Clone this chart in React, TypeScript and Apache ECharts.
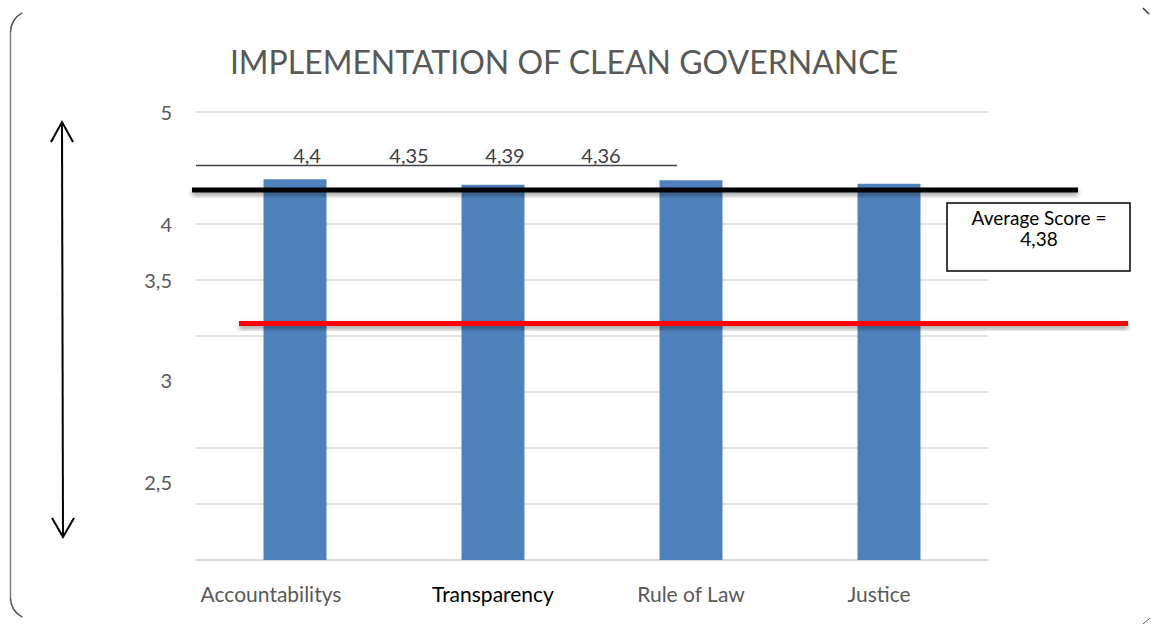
import React, { useEffect, useRef } from 'react';
import * as echarts from 'echarts';

const chartTitle = 'IMPLEMENTATION OF CLEAN GOVERNANCE';
const categories = ['Accountabilitys', 'Transparency', 'Rule of Law', 'Justice'];
const scores = [4.4, 4.35, 4.39, 4.36];
const averageScore = 4.38;
const yAxisLabelValues = [5, 4, 3.5];
const looseYAxisLabels = ['3', '2,5'];

const FONT = 'Lato, "Open Sans", sans-serif';
const fmt = (v: number) => String(v).replace('.', ',');

export default function App() {
  const ref = useRef<HTMLDivElement>(null);

  useEffect(() => {
    if (!ref.current) return;
    const chart = echarts.init(ref.current, null, { renderer: 'svg' });

    const labelXs = [307, 409, 505, 601];
    const looseLabelYs = [380, 482];
    const catStyles: any[] = [
      { color: '#595959', padding: [0, 48, 0, 0] },
      { color: '#000000' },
      { color: '#595959' },
      { color: '#595959', padding: [0, 20, 0, 0] },
    ];

    const gridColors = ['#d9d9d9', '#d9d9d9', '#d9d9d9', '#d9d9d9', '#d9d9d9', '#d9d9d9', '#d9d9d9', 'rgba(0,0,0,0)', '#d9d9d9'];

    const barShadow = { shadowBlur: 5, shadowOffsetY: 3, shadowOffsetX: 0, shadowColor: 'rgba(0,0,0,0.4)' };

    chart.setOption({
      animation: false,
      backgroundColor: '#ffffff',
      textStyle: { fontFamily: FONT },
      grid: { left: 196, right: 163, top: 112, bottom: 66, containLabel: false },
      xAxis: {
        type: 'category',
        data: categories.map((c, i) => ({ value: c, textStyle: catStyles[i] })),
        axisLine: { show: true, lineStyle: { color: '#d9d9d9', width: 1.5 } },
        axisTick: { show: false },
        axisLabel: { fontSize: 21, fontFamily: FONT, color: '#595959', margin: 23, interval: 0 },
      },
      yAxis: {
        type: 'value',
        min: 1,
        max: 5,
        interval: 0.5,
        axisLine: { show: false },
        axisTick: { show: false },
        splitLine: { show: true, lineStyle: { color: gridColors, width: 1.5 } },
        axisLabel: {
          fontSize: 20,
          fontFamily: FONT,
          color: '#595959',
          margin: 24,
          formatter: (v: number) => (yAxisLabelValues.includes(v) ? fmt(v) : ''),
        },
      },
      series: [
        {
          type: 'bar',
          data: scores,
          barWidth: 63,
          itemStyle: { color: '#4F81BD' },
          z: 2,
        },
      ],
      graphic: [
        {
          type: 'text', x: 564, y: 61, z: 10,
          style: { text: chartTitle, fill: '#595959', font: `32px ${FONT}`, textAlign: 'center', textVerticalAlign: 'middle' },
        },
        { type: 'rect', z: 5, shape: { x: 195, y: 386, width: 68, height: 12 }, style: { fill: '#ffffff' } },
        ...looseYAxisLabels.map((t, i) => ({
          type: 'text', x: 172, y: looseLabelYs[i], z: 10,
          style: { text: t, fill: '#595959', font: `20px ${FONT}`, textAlign: 'right', textVerticalAlign: 'middle' },
        })),
        ...scores.map((v, i) => ({
          type: 'text', x: labelXs[i], y: 155, z: 10,
          style: { text: fmt(v), fill: '#404040', font: `20px ${FONT}`, textAlign: 'center', textVerticalAlign: 'middle' },
        })),
        { type: 'line', z: 10, shape: { x1: 196, y1: 165.5, x2: 677, y2: 165.5 }, style: { stroke: '#404040', lineWidth: 1.5 } },
        { type: 'rect', z: 11, shape: { x: 192, y: 187.5, width: 886, height: 5 }, style: { fill: '#000000', ...barShadow } },
        { type: 'rect', z: 11, shape: { x: 239, y: 321, width: 889, height: 5 }, style: { fill: '#ff0000', ...barShadow } },
        { type: 'rect', z: 12, shape: { x: 947, y: 203, width: 183, height: 68 }, style: { fill: '#ffffff', stroke: '#000000', lineWidth: 1.5 } },
        {
          type: 'text', x: 1039, y: 217, z: 13,
          style: { text: 'Average Score =', fill: '#000000', font: `19px ${FONT}`, textAlign: 'center', textVerticalAlign: 'middle' },
        },
        {
          type: 'text', x: 1039, y: 238, z: 13,
          style: { text: fmt(averageScore), fill: '#000000', font: `19px ${FONT}`, textAlign: 'center', textVerticalAlign: 'middle' },
        },
        { type: 'line', z: 10, shape: { x1: 62, y1: 123, x2: 63, y2: 536 }, style: { stroke: '#000000', lineWidth: 2 } },
        { type: 'polyline', z: 10, shape: { points: [[51, 142], [62, 122], [73, 142]] }, style: { stroke: '#000000', lineWidth: 2, fill: 'none' } },
        { type: 'polyline', z: 10, shape: { points: [[52, 518], [63, 537], [74, 518]] }, style: { stroke: '#000000', lineWidth: 2, fill: 'none' } },
        { type: 'line', z: 10, shape: { x1: 10.5, y1: 32, x2: 10.5, y2: 598 }, style: { stroke: '#7f7f7f', lineWidth: 1.5 } },
        { type: 'arc', z: 10, shape: { cx: 32, cy: 32, r: 21.5, startAngle: Math.PI, endAngle: Math.PI * 1.35 }, style: { stroke: '#555555', lineWidth: 1.5, fill: 'none' } },
        { type: 'arc', z: 10, shape: { cx: 32, cy: 598, r: 21.5, startAngle: Math.PI * 0.65, endAngle: Math.PI }, style: { stroke: '#555555', lineWidth: 1.5, fill: 'none' } },
        { type: 'line', z: 10, shape: { x1: 1143, y1: 8, x2: 1149, y2: 14 }, style: { stroke: '#333333', lineWidth: 1.5 } },
        { type: 'line', z: 10, shape: { x1: 1143, y1: 624, x2: 1150, y2: 618 }, style: { stroke: '#555555', lineWidth: 1 } },
      ],
    });

    return () => chart.dispose();
  }, []);

  return <div ref={ref} style={{ width: 1151, height: 626, position: 'absolute', left: 0, top: 0 }} />;
}
